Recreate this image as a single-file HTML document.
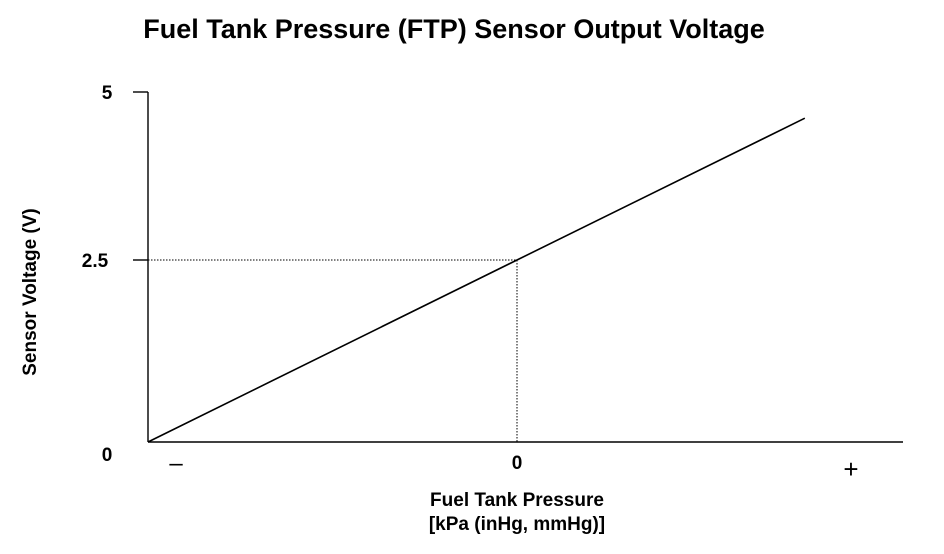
<!DOCTYPE html>
<html><head><meta charset="utf-8"><style>
body{margin:0;background:#fff;}
svg{display:block;font-family:"Liberation Sans",Arial,sans-serif;font-weight:bold;}
</style></head><body>
<svg width="944" height="554" viewBox="0 0 944 554" id="chart">
<text x="454" y="38" text-anchor="middle" font-size="27">Fuel Tank Pressure (FTP) Sensor Output Voltage</text>
<text transform="translate(36,292) rotate(-90)" text-anchor="middle" font-size="19">Sensor Voltage (V)</text>
<text x="517" y="506" text-anchor="middle" font-size="19">Fuel Tank Pressure</text>
<text x="517" y="530" text-anchor="middle" font-size="19">[kPa (inHg, mmHg)]</text>
<g id="axes"></g>
<g id="marks"></g>
</svg>
<script>
const xVals = [-1, 0, 0.78];
const yVals = [0, 2.5, 4.61];
const yTicks = [0, 2.5, 5];
const yTickLabels = ["0", "2.5", "5"];
const xRef = 0;
const yRef = 2.5;

const X = v => 517 + v * 369;
const Y = v => v <= 2.5 ? 442 - v * (182 / 2.5) : 260 - (v - 2.5) * (168 / 2.5);
const NS = "http://www.w3.org/2000/svg";
const axes = document.getElementById('axes');
const marks = document.getElementById('marks');
function mk(tag, attrs, parent){const e=document.createElementNS(NS,tag);for(const k in attrs)e.setAttribute(k,attrs[k]);parent.appendChild(e);return e;}

let e = mk('line',{x1:148,y1:Y(5),x2:148,y2:Y(0),stroke:'#000','stroke-width':1.4},axes);


e = mk('line',{x1:148,y1:Y(0),x2:903,y2:Y(0),stroke:'#000','stroke-width':1.4},axes);



yTicks.forEach((t,i)=>{
  if(t>0){
    const tk = mk('line',{x1:133,y1:Y(t),x2:148,y2:Y(t),stroke:'#000','stroke-width':1.4},axes);
    
    
  }
  const lb = mk('text',{x:t===2.5?95:107,y:Y(t)+(t===0?19:7),'text-anchor':'middle','font-size':19},axes);
  lb.textContent = yTickLabels[i];
  
  
});

let t0 = mk('text',{x:X(xRef),y:469,'text-anchor':'middle','font-size':19},axes);
t0.textContent='0';


let tm = mk('text',{x:176,y:471,'text-anchor':'middle','font-size':24,'font-weight':'normal'},axes);
tm.textContent='–';


let tp = mk('text',{x:851,y:478,'text-anchor':'middle','font-size':26,'font-weight':'normal'},axes);
tp.textContent='+';



let dh = mk('line',{x1:148,y1:Y(yRef),x2:X(xRef),y2:Y(yRef),stroke:'#000','stroke-width':1,'stroke-dasharray':'1.5,1.5'},marks);


let dv = mk('line',{x1:X(xRef),y1:Y(yRef),x2:X(xRef),y2:Y(0),stroke:'#000','stroke-width':1,'stroke-dasharray':'1.5,1.5'},marks);



const pts = xVals.map((x,i)=>X(x)+','+Y(yVals[i])).join(' ');
let pl = mk('polyline',{points:pts,fill:'none',stroke:'#000','stroke-width':1.6},marks);


</script>
</body></html>
